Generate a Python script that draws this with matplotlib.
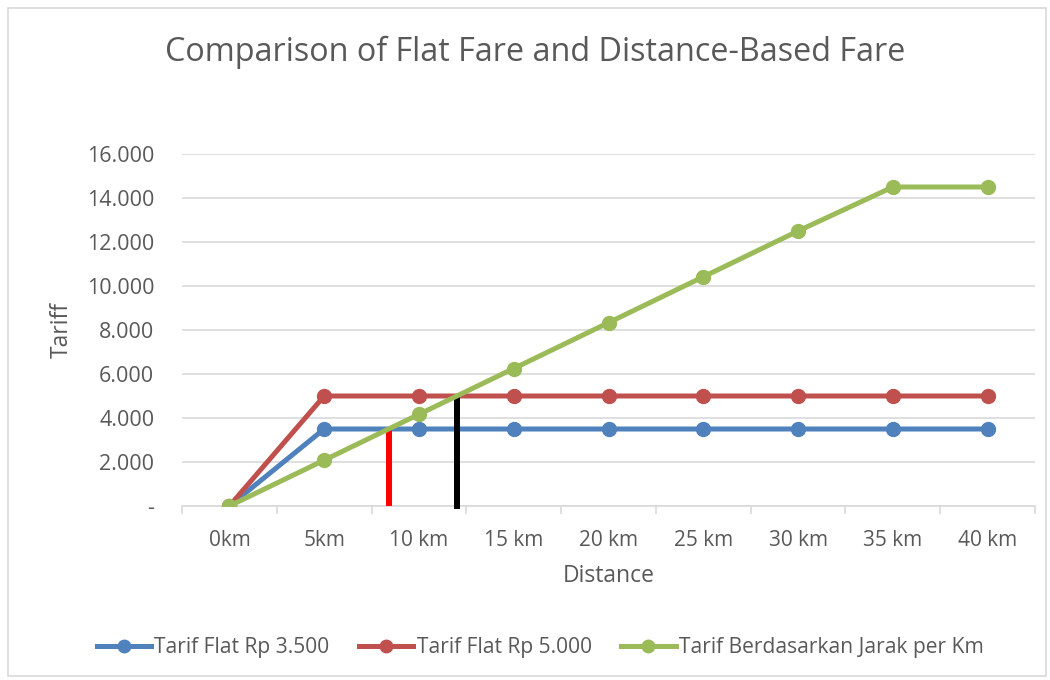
import matplotlib
matplotlib.use("Agg")
import matplotlib.pyplot as plt
import numpy as np
from matplotlib.patches import Rectangle

# Data
categories = ["0km", "5km", "10 km", "15 km", "20 km", "25 km", "30 km", "35 km", "40 km"]
flat_3500 = [0, 3500, 3500, 3500, 3500, 3500, 3500, 3500, 3500]
flat_5000 = [0, 5000, 5000, 5000, 5000, 5000, 5000, 5000, 5000]
per_km = [0, 2083, 4167, 6250, 8333, 10417, 12500, 14500, 14500]
y_ticks = [0, 2000, 4000, 6000, 8000, 10000, 12000, 14000, 16000]
y_tick_labels = ["-", "2.000", "4.000", "6.000", "8.000", "10.000", "12.000", "14.000", "16.000"]
series_names = ["Tarif Flat Rp 3.500", "Tarif Flat Rp 5.000", "Tarif Berdasarkan Jarak per Km"]

plt.rcParams["font.family"] = ["Open Sans", "DejaVu Sans"]
TEXT = "#595959"
GRID = "#D9D9D9"
BLUE, RED, GREEN = "#4F81BD", "#C0504D", "#9BBB59"

fig = plt.figure(figsize=(10.5, 6.8), dpi=100)
fig.patches.append(Rectangle((8 / 1050, 4 / 680), 1038 / 1050, 668 / 680,
                             transform=fig.transFigure, fill=False,
                             edgecolor=GRID, linewidth=1.2))

ax = fig.add_axes([182 / 1050, 1 - 506 / 680, (1035 - 182) / 1050, (506 - 154) / 680])
x = np.arange(len(categories))

lw, ms = 3.6, 10
ax.plot(x, flat_3500, color=BLUE, lw=lw, marker="o", ms=ms, label=series_names[0], zorder=3)
ax.plot(x, flat_5000, color=RED, lw=lw, marker="o", ms=ms, label=series_names[1], zorder=3)
ax.plot(x, per_km, color=GREEN, lw=lw, marker="o", ms=ms, label=series_names[2], zorder=5)

# Break-even markers where the distance fare reaches each flat fare
rising = slice(0, 7)
x_be_low = np.interp(flat_3500[1], per_km[rising], x[rising])
x_be_high = np.interp(flat_5000[1], per_km[rising], x[rising])
ax.plot([x_be_low, x_be_low], [0, flat_3500[1]], color="#FF0000", lw=4.3,
        solid_capstyle="butt", zorder=4)
ax.plot([x_be_high, x_be_high], [-150, flat_5000[1]], color="black", lw=4.3,
        solid_capstyle="butt", zorder=4, clip_on=False)

ax.set_xlim(-0.5, len(categories) - 0.5)
ax.set_ylim(0, 16000)
ax.set_yticks(y_ticks)
ax.set_yticklabels(y_tick_labels)
ax.set_xticks(x)
ax.set_xticklabels(categories)
ax.set_xticks(np.arange(-0.5, len(categories), 1), minor=True)

ax.tick_params(axis="y", length=0, pad=20, labelsize=15.5, labelcolor=TEXT)
ax.tick_params(axis="x", which="major", length=0, pad=17, labelsize=15, labelcolor=TEXT)
ax.tick_params(axis="x", which="minor", length=6, width=1.2, color=GRID)

ax.grid(axis="y", color=GRID, lw=1.2, zorder=0)
ax.set_axisbelow(True)
for s in ["top", "right", "left"]:
    ax.spines[s].set_visible(False)
ax.spines["bottom"].set_color(GRID)
ax.spines["bottom"].set_linewidth(1.2)
ax.spines["bottom"].set_zorder(1)

fig.text(535 / 1050, 1 - 52 / 680, "Comparison of Flat Fare and Distance-Based Fare",
         ha="center", va="center", fontsize=23.3, color=TEXT)
fig.text(609 / 1050, 1 - 576 / 680, "Distance", ha="center", va="center",
         fontsize=16.5, color=TEXT)
fig.text(62 / 1050, 1 - 330 / 680, "Tariff", ha="center", va="center",
         fontsize=16.5, color=TEXT, rotation=90)

handles, labels = ax.get_legend_handles_labels()
fig.legend(handles, labels, loc="center", bbox_to_anchor=(540 / 1050, 1 - 648 / 680),
           ncol=3, frameon=False, fontsize=15.1, labelcolor=TEXT, handlelength=2.6,
           handletextpad=0.15, columnspacing=1.4, markerscale=0.9)

fig.savefig("out.png", dpi=100)
